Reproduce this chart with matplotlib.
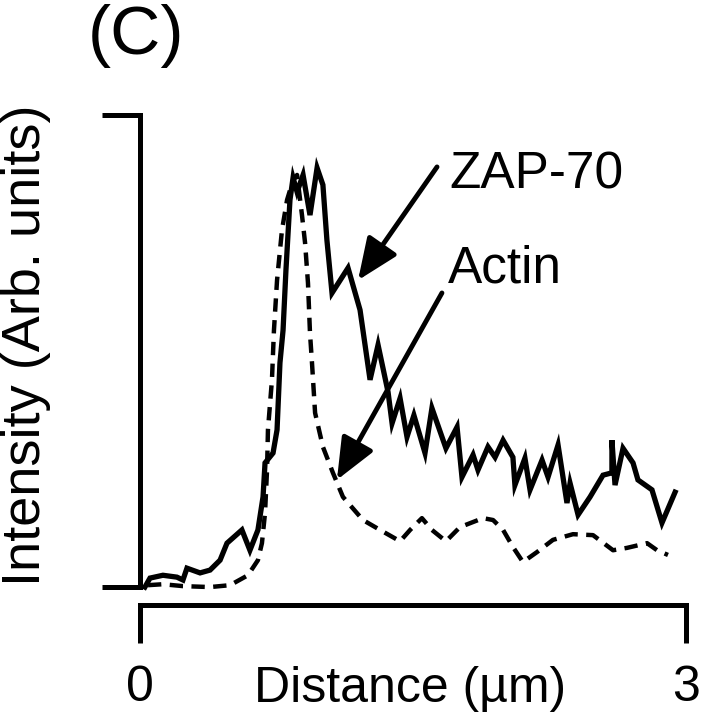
import matplotlib
matplotlib.use("Agg")
import matplotlib.pyplot as plt
from matplotlib.patches import ArrowStyle

plt.rcParams["font.family"] = ["Liberation Sans", "DejaVu Sans"]

# ZAP-70 line scan (solid)
zap_x = [0.027, 0.055, 0.126, 0.203, 0.236, 0.258, 0.330, 0.385, 0.440, 0.478,
         0.560, 0.604, 0.648, 0.676, 0.687, 0.731, 0.753, 0.769, 0.786, 0.802,
         0.824, 0.841, 0.863, 0.896, 0.934, 0.973, 1.005, 1.027, 1.055, 1.143,
         1.209, 1.264, 1.308, 1.363, 1.385, 1.429, 1.467, 1.505, 1.566, 1.604,
         1.681, 1.742, 1.769, 1.830, 1.857, 1.912, 1.951, 1.995, 2.049, 2.060,
         2.115, 2.143, 2.209, 2.242, 2.297, 2.346, 2.363, 2.407, 2.473, 2.544,
         2.593, 2.593, 2.610, 2.654, 2.709, 2.736, 2.813, 2.868, 2.940]
zap_y = [0.000, 0.019, 0.025, 0.021, 0.015, 0.040, 0.030, 0.036, 0.057, 0.093,
         0.121, 0.078, 0.121, 0.191, 0.263, 0.284, 0.333, 0.475, 0.544, 0.672,
         0.820, 0.867, 0.837, 0.873, 0.788, 0.888, 0.852, 0.735, 0.623, 0.676,
         0.587, 0.439, 0.513, 0.413, 0.347, 0.400, 0.318, 0.364, 0.284, 0.379,
         0.294, 0.339, 0.233, 0.280, 0.248, 0.297, 0.275, 0.311, 0.275, 0.216,
         0.273, 0.206, 0.269, 0.233, 0.301, 0.178, 0.220, 0.153, 0.191, 0.237,
         0.242, 0.311, 0.216, 0.294, 0.263, 0.227, 0.206, 0.136, 0.201]

# Actin line scan (dashed)
act_x = [0.044, 0.126, 0.236, 0.385, 0.495, 0.593, 0.648, 0.670, 0.687, 0.698,
         0.703, 0.725, 0.736, 0.753, 0.780, 0.808, 0.841, 0.863, 0.890, 0.907,
         0.923, 0.934, 0.945, 0.962, 1.005, 1.060, 1.115, 1.225, 1.319, 1.429,
         1.484, 1.549, 1.604, 1.681, 1.758, 1.885, 1.940, 1.995, 2.049, 2.104,
         2.181, 2.269, 2.379, 2.489, 2.599, 2.676, 2.786, 2.841, 2.901]
act_y = [0.004, 0.006, 0.002, 0.000, 0.004, 0.025, 0.057, 0.093, 0.157, 0.248,
         0.333, 0.439, 0.544, 0.650, 0.756, 0.820, 0.862, 0.873, 0.788, 0.729,
         0.644, 0.538, 0.475, 0.369, 0.297, 0.242, 0.191, 0.142, 0.121, 0.097,
         0.121, 0.146, 0.121, 0.097, 0.127, 0.146, 0.142, 0.121, 0.085, 0.053,
         0.074, 0.100, 0.112, 0.110, 0.078, 0.083, 0.093, 0.078, 0.068]

x_ticks = [0, 3]
x_tick_labels = ["0", "3"]

fig = plt.figure(figsize=(7.01, 7.19), dpi=100)
ax = fig.add_axes([140 / 701, 1 - 605 / 719, 546 / 701, 490 / 719])

ax.plot(zap_x, zap_y, color="black", lw=3.8, solid_joinstyle="miter")
ax.plot(act_x, act_y, color="black", lw=3.2, ls=(0, (3.0, 1.9)))

ax.set_xlim(0, 3)
ax.set_ylim(-0.038, 1.0)

for s in ["top", "right"]:
    ax.spines[s].set_visible(False)
ax.spines["left"].set_bounds(0, 1)
ax.spines["bottom"].set_bounds(0, 3)
for s in ["left", "bottom"]:
    ax.spines[s].set_linewidth(3.6)
    ax.spines[s].set_capstyle("projecting")

ax.set_yticks([0, 1])
ax.set_yticklabels([])
ax.set_xticks(x_ticks)
ax.set_xticklabels(x_tick_labels, fontsize=36)
ax.tick_params(axis="both", direction="out", length=27.5, width=3.6, pad=16)

style = ArrowStyle("-|>", head_length=0.85, head_width=0.36)
ax.annotate("", xy=(1.198, 0.650), xytext=(1.632, 0.890),
            arrowprops=dict(arrowstyle=style, color="black", lw=3.5,
                            mutation_scale=30, shrinkA=0, shrinkB=0))
ax.annotate("", xy=(1.082, 0.227), xytext=(1.659, 0.623),
            arrowprops=dict(arrowstyle=style, color="black", lw=3.5,
                            mutation_scale=30, shrinkA=0, shrinkB=0))
ax.text(1.70, 0.845, "ZAP-70", fontsize=37, va="baseline", ha="left")
ax.text(1.69, 0.646, "Actin", fontsize=37, va="baseline", ha="left")

fig.text(410 / 701, 1 - 702 / 719, "Distance (µm)", fontsize=36,
         ha="center", va="baseline")
fig.text(26 / 701, 1 - 345 / 719, "Intensity (Arb. units)", fontsize=39,
         rotation=90, ha="center", va="center")
fig.text(136 / 701, 1 - 36 / 719, "(C)", fontsize=50, ha="center", va="center")

fig.savefig("out.png", dpi=100)
